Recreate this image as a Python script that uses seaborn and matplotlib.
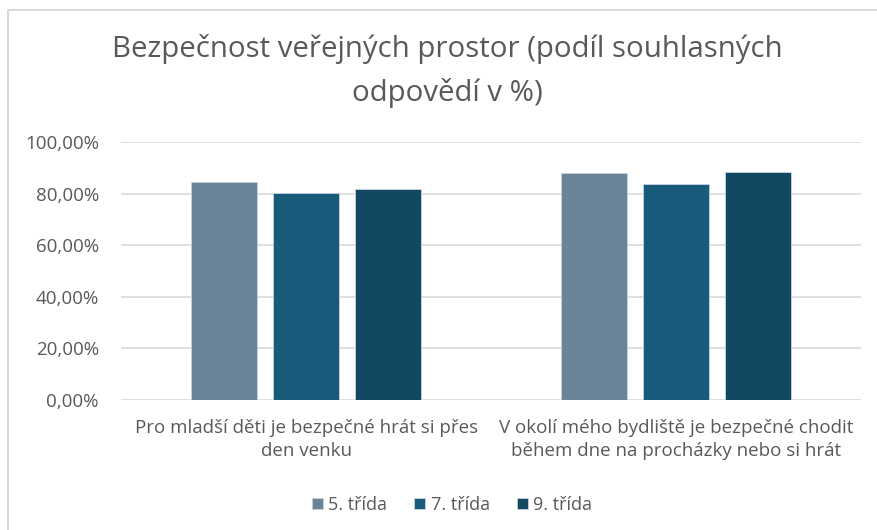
import matplotlib as mpl
mpl.use('Agg')

import matplotlib.pyplot as plt
from matplotlib.lines import Line2D
from matplotlib.ticker import FuncFormatter
import pandas as pd
import seaborn as sns

categories = [
    'Pro mladší děti je bezpečné hrát si přes\nden venku',
    'V okolí mého bydliště je bezpečné chodit\nběhem dne na procházky nebo si hrát',
]
grades = ['5. třída', '7. třída', '9. třída']
grade5 = [84.6, 87.9]
grade7 = [80.1, 83.7]
grade9 = [81.9, 88.2]
colors = ['#6A8599', '#175A7A', '#124862']

title = 'Bezpečnost veřejných prostor (podíl souhlasných\nodpovědí v %)'
text_gray = '#595959'
grid_gray = '#D9D9D9'


def pct_fmt(y, pos):
    return '{0:.2f}%'.format(y).replace('.', ',')


def main():
    sns.set_theme(style='white')
    plt.rcParams['font.family'] = ['Open Sans', 'DejaVu Sans']

    rows = []
    for grade, vals in zip(grades, [grade5, grade7, grade9]):
        for cat, v in zip(categories, vals):
            rows.append({'cat': cat, 'grade': grade, 'value': v})
    df = pd.DataFrame(rows)

    fig = plt.figure(figsize=(8.77, 5.30), dpi=100)
    ax = fig.add_axes([0.138, 0.2453, 0.844, 0.4867])

    sns.barplot(data=df, x='cat', y='value', hue='grade', order=categories,
                hue_order=grades, palette=colors, width=0.665, gap=0.2,
                saturation=1, edgecolor='#C8D3DC', linewidth=0.6, ax=ax)

    ax.set_ylim(0, 100)
    ax.set_xlim(-0.5, 1.5)
    ax.set_yticks([0, 20, 40, 60, 80, 100])
    ax.yaxis.set_major_formatter(FuncFormatter(pct_fmt))
    ax.yaxis.grid(True, color=grid_gray, linewidth=1.2)
    ax.set_axisbelow(True)
    for s in ax.spines.values():
        s.set_visible(False)
    ax.set_xlabel('')
    ax.set_ylabel('')
    ax.tick_params(axis='y', labelsize=13.5, colors=text_gray, length=0, pad=16)
    ax.tick_params(axis='x', labelsize=13.5, colors=text_gray, length=0, pad=14)
    for lbl in ax.get_xticklabels():
        lbl.set_linespacing(1.35)

    ax.legend(loc='center', bbox_to_anchor=(452 / 877, 25 / 530),
              bbox_transform=fig.transFigure, ncol=3,
              frameon=False, fontsize=13, labelcolor=text_gray,
              handlelength=0.6, handleheight=0.6, handletextpad=0.3,
              columnspacing=1.5)

    fig.text(0.51, 0.935, title, ha='center', va='top', fontsize=21.2,
             color=text_gray, linespacing=1.58)

    # chart frame
    fig.add_artist(Line2D([7.5 / 877, 1], [1 - 10 / 530] * 2, color=grid_gray, linewidth=1.5))
    fig.add_artist(Line2D([7.5 / 877] * 2, [0, 1 - 10 / 530], color=grid_gray, linewidth=1.5))

    plt.savefig('out.png', dpi=100)


if __name__ == '__main__':
    main()
